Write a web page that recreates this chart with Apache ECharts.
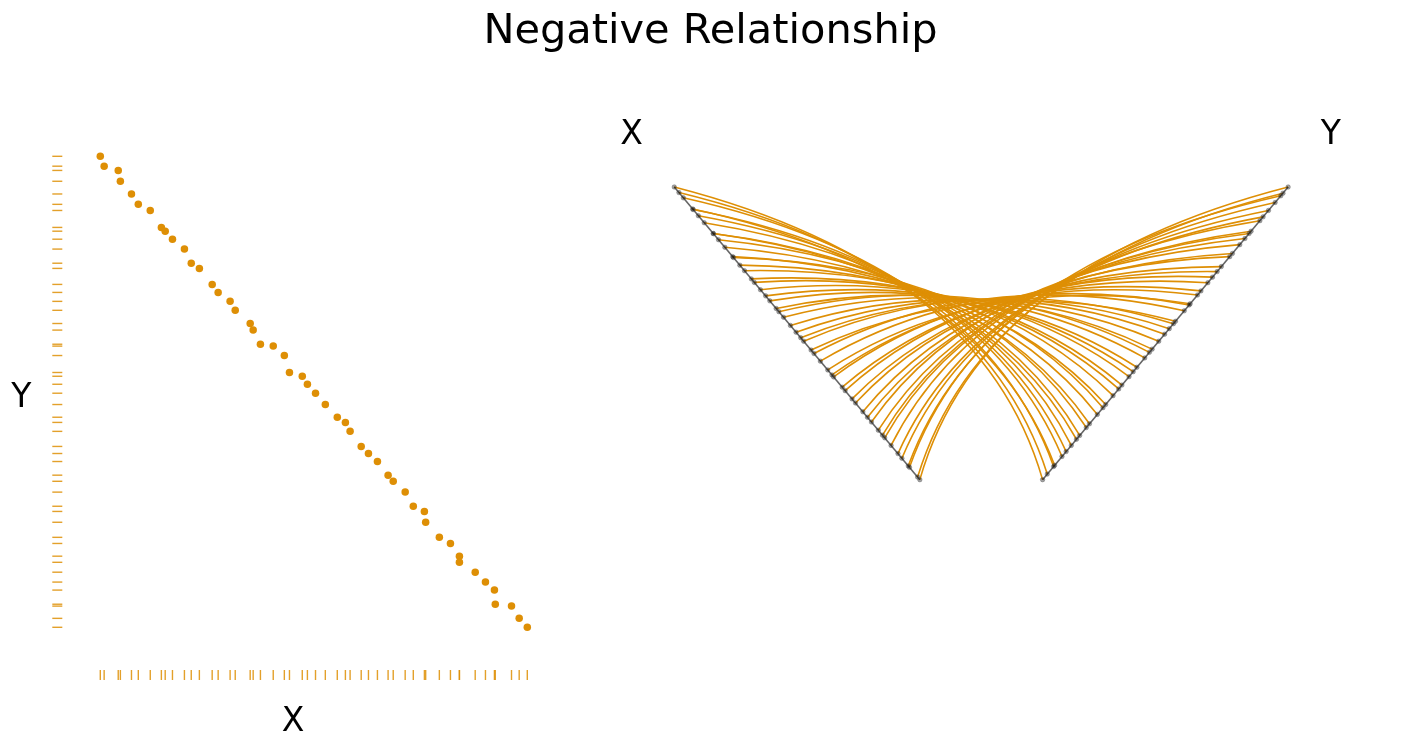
<!DOCTYPE html>
<html>
<head>
<meta charset="utf-8">
<script src="https://cdn.jsdelivr.net/npm/echarts@6/dist/echarts.min.js"></script>
<style>
  html, body { margin: 0; padding: 0; background: #fff; }
  #container { width: 1421px; height: 748px; }
</style>
</head>
<body>
<div id="container"></div>
<script>
var dom = document.getElementById("container");
var myChart = echarts.init(dom);
var option;

// values (0-100 scale on both variables)
var xValues = [
  0, 0.9, 4.2, 4.7, 7.3, 8.9, 11.7, 14.3, 15.2, 16.9,
  19.7, 21.3, 23.2, 26.2, 27.6, 30.4, 31.6, 35.1, 35.8, 37.5,
  40.5, 43.1, 44.3, 47.3, 48.5, 50.4, 52.7, 55.5, 57.4, 58.5,
  61.1, 62.8, 64.9, 67.4, 68.6, 71.4, 73.3, 75.9, 76.2, 79.4,
  82.0, 84.1, 84.1, 87.8, 90.2, 92.3, 92.5, 96.3, 98.1, 100
];
var yValues = [
  100, 97.9, 97.0, 94.7, 92.0, 89.8, 88.5, 84.9, 84.1, 82.4,
  80.3, 77.3, 76.2, 72.8, 71.1, 69.2, 67.3, 64.5, 63.1, 60.1,
  59.7, 57.7, 54.1, 53.3, 51.6, 49.7, 47.3, 44.6, 43.5, 41.6,
  38.4, 36.9, 35.2, 32.3, 31.0, 28.7, 25.7, 24.6, 22.3, 19.1,
  17.8, 15.1, 13.8, 11.7, 9.6, 7.9, 4.9, 4.5, 1.9, 0
];
var axisNames = ["X", "Y"];
var titleText = "Negative Relationship";

var orange = "#DE8F05";
var font = "DejaVu Sans";

// hive axes: radius 1..5, at -40 / +40 degrees from vertical
var armAngle = (40 * Math.PI) / 180;
var labelAngle = (39.7 * Math.PI) / 180;
function radius(v) {
  return 1 + (4 * v) / 100;
}
function armPoint(side, r) {
  // side -1 = left arm (X), +1 = right arm (Y)
  return [side * r * Math.sin(armAngle), r * Math.cos(armAngle)];
}

var pairs = [];
var i;
for (i = 0; i < xValues.length; i++) {
  pairs.push([xValues[i], yValues[i]]);
}

var hiveNodes = [];
for (i = 0; i < xValues.length; i++) {
  hiveNodes.push(armPoint(-1, radius(xValues[i])));
  hiveNodes.push(armPoint(1, radius(yValues[i])));
}

var labelStyle = { fontFamily: font, fontSize: 33, fill: "#000" };

option = {
  animation: false,
  backgroundColor: "#fff",
  title: {
    text: titleText,
    left: "center",
    top: 6,
    textStyle: {
      fontFamily: font,
      fontSize: 41.5,
      fontWeight: "normal",
      color: "#000",
    },
  },
  // axis titles of the scatter panel
  graphic: [
    {
      type: "text",
      x: 293,
      y: 722,
      style: Object.assign({ text: axisNames[0], align: "center", verticalAlign: "middle" }, labelStyle),
    },
    {
      type: "text",
      x: 21.3,
      y: 398.7,
      style: Object.assign({ text: axisNames[1], align: "center", verticalAlign: "middle" }, labelStyle),
    },
  ],
  grid: [
    { left: 100.3, top: 156.3, width: 427, height: 471 },
    { left: 599.2, top: 75.3, width: 764, height: 477.5 },
  ],
  xAxis: [
    { gridIndex: 0, type: "value", min: 0, max: 100, show: false },
    { gridIndex: 1, type: "value", min: -4, max: 4, show: false },
  ],
  yAxis: [
    { gridIndex: 0, type: "value", min: 0, max: 100, show: false },
    { gridIndex: 1, type: "value", min: 0, max: 5, show: false },
  ],
  series: [
    // rug marks
    {
      type: "custom",
      xAxisIndex: 0,
      yAxisIndex: 0,
      data: pairs,
      renderItem: function (params, api) {
        var px = api.coord([api.value(0), 0]);
        var py = api.coord([0, api.value(1)]);
        var style = { stroke: orange, lineWidth: 1.4, opacity: 0.85 };
        return {
          type: "group",
          children: [
            {
              type: "line",
              shape: { x1: px[0], y1: px[1] + 42.7, x2: px[0], y2: px[1] + 52.7 },
              style: style,
            },
            {
              type: "line",
              shape: { x1: py[0] - 48, y1: py[1], x2: py[0] - 38, y2: py[1] },
              style: style,
            },
          ],
        };
      },
    },
    // scatter
    {
      type: "scatter",
      xAxisIndex: 0,
      yAxisIndex: 0,
      clip: false,
      data: pairs,
      symbolSize: 7.5,
      itemStyle: { color: orange, opacity: 1 },
    },
    // hive edges: quadratic bezier, control point on the middle angle at mean radius
    {
      type: "custom",
      xAxisIndex: 1,
      yAxisIndex: 1,
      data: pairs,
      renderItem: function (params, api) {
        var r1 = radius(api.value(0));
        var r2 = radius(api.value(1));
        var p1 = api.coord(armPoint(-1, r1));
        var p2 = api.coord(armPoint(1, r2));
        var c = api.coord([0, (r1 + r2) / 2]);
        return {
          type: "bezierCurve",
          shape: {
            x1: p1[0],
            y1: p1[1],
            x2: p2[0],
            y2: p2[1],
            cpx1: c[0],
            cpy1: c[1],
          },
          style: { stroke: orange, lineWidth: 1.6, fill: null },
        };
      },
    },
    // hive axes and their labels
    {
      type: "custom",
      xAxisIndex: 1,
      yAxisIndex: 1,
      data: [[-1], [1]],
      renderItem: function (params, api) {
        var side = api.value(0);
        var a = api.coord(armPoint(side, 1));
        var b = api.coord(armPoint(side, 5));
        var t = api.coord([side * 5.73 * Math.sin(labelAngle), 5.73 * Math.cos(labelAngle)]);
        return {
          type: "group",
          children: [
            {
              type: "line",
              shape: { x1: a[0], y1: a[1], x2: b[0], y2: b[1] },
              style: { stroke: "rgba(50,50,50,0.75)", lineWidth: 1.6 },
            },
            {
              type: "text",
              style: Object.assign(
                {
                  text: axisNames[side < 0 ? 0 : 1],
                  x: t[0],
                  y: t[1] + 3.7,
                  align: "center",
                  verticalAlign: "middle",
                },
                labelStyle
              ),
            },
          ],
        };
      },
    },
    // hive nodes
    {
      type: "scatter",
      xAxisIndex: 1,
      yAxisIndex: 1,
      clip: false,
      data: hiveNodes,
      symbolSize: 4.5,
      itemStyle: {
        color: "rgba(0,0,0,0.45)",
        borderColor: "rgba(90,90,90,0.5)",
        borderWidth: 1,
      },
    },
  ],
};

myChart.setOption(option);
</script>
</body>
</html>
